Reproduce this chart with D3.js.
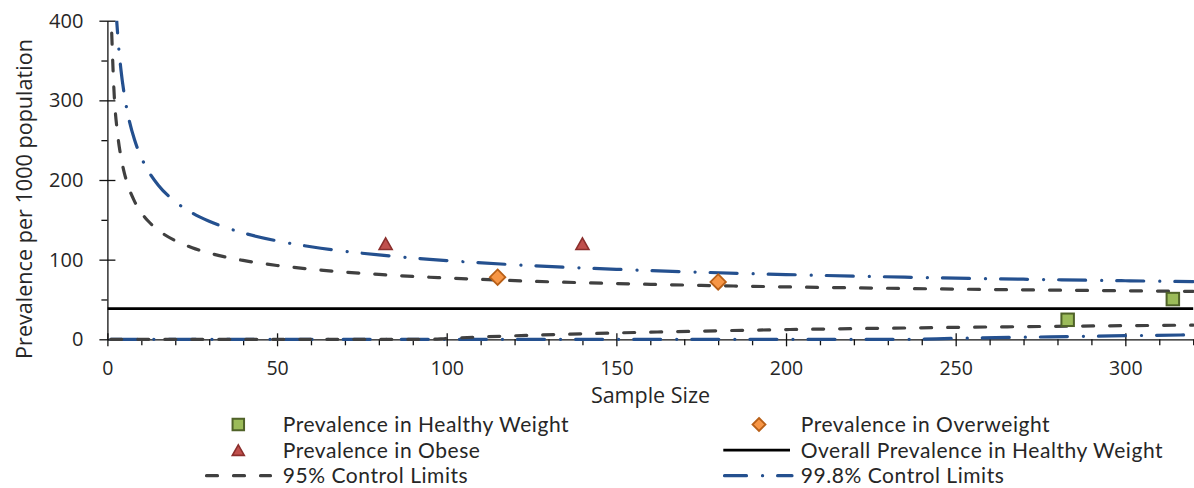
<!DOCTYPE html>
<html>
<head>
<meta charset="utf-8">
<script src="https://cdn.jsdelivr.net/npm/d3@7"></script>
<style>
  body { margin: 0; background: #fff; }
  svg { display: block; }
  text { font-family: 'Open Sans', 'Noto Sans', sans-serif; fill: #262626; }
  .legend text { font-family: Lato, 'Open Sans', sans-serif; letter-spacing: 0.55px; }
</style>
</head>
<body>
<svg id="chart" width="1194" height="488"></svg>
<script>
// Funnel plot: prevalence per 1000 against sample size, with 95% and 99.8% control limits.
const sampleSizes = [1, 2, 3, 4, 5, 6, 8, 10, 12, 15, 20, 25, 30, 40, 50, 60, 80, 95, 100, 125, 150, 175, 200, 235, 250, 275, 300, 320];
const upper95  = [418.5, 307.3, 258.1, 228.7, 208.7, 193.9, 173.2, 159.0, 148.5, 137.0, 123.8, 114.9, 108.3, 99.0, 92.7, 88.0, 81.4, 77.9, 77.0, 72.9, 70.0, 67.7, 65.8, 63.8, 63.0, 61.9, 60.9, 60.2];
const lower95  = [0, 0, 0, 0, 0, 0, 0, 0, 0, 0, 0, 0, 0, 0, 0, 0, 0, 0, 1.1, 5.1, 8.0, 10.3, 12.2, 14.2, 15.0, 16.1, 17.1, 17.8];
const upper998 = [637.2, 462.0, 384.5, 338.1, 306.6, 283.3, 250.5, 228.2, 211.7, 193.5, 172.8, 158.6, 148.2, 133.6, 123.6, 116.2, 105.9, 100.4, 98.8, 92.5, 87.9, 84.2, 81.3, 78.0, 76.8, 75.1, 73.5, 72.4];
const lower998 = [0, 0, 0, 0, 0, 0, 0, 0, 0, 0, 0, 0, 0, 0, 0, 0, 0, 0, 0, 0, 0, 0, 0, 0, 1.2, 2.9, 4.5, 5.6];

const overallPrevalence = 38.5;

const healthyN = [283, 314];
const healthyRate = [24.5, 50.5];
const overweightN = [115, 180];
const overweightRate = [78, 72];
const obeseN = [82, 140];
const obeseRate = [120, 120];

const xTicks = [0, 50, 100, 150, 200, 250, 300];
const xMinorTicks = [10, 20, 30, 40, 60, 70, 80, 90, 110, 120, 130, 140, 160, 170, 180, 190, 210, 220, 230, 240, 260, 270, 280, 290, 310, 320];
const yTicks = [0, 100, 200, 300, 400];
const yMinorTicks = [50, 150, 250, 350];

const legendLabels = [
  "Prevalence in Healthy Weight", "Prevalence in Overweight",
  "Prevalence in Obese", "Overall Prevalence in Healthy Weight",
  "95% Control Limits", "99.8% Control Limits"
];

const colors = {
  limit95: "#404040",
  limit998: "#24508f",
  overall: "#000000",
  healthyFill: "#9bbb59", healthyStroke: "#4f6228",
  overFill: "#f79646", overStroke: "#b85f17",
  obeseFill: "#c0504d", obeseStroke: "#8b2e2c"
};

const svg = d3.select("#chart");
const x = d3.scaleLinear().domain([0, 320]).range([107.4, 1193.2]);
const y = d3.scaleLinear().domain([0, 400]).range([339.3, 20.7]);

svg.append("defs").append("clipPath").attr("id", "plotClip")
  .append("rect").attr("x", x(0)).attr("y", y(400)).attr("width", 1194 - x(0)).attr("height", y(0) - y(400) + 8);

// Axes
const axisG = svg.append("g").attr("class", "axes");

const xMinor = axisG.append("g").attr("transform", `translate(0,${y(0)})`)
  .call(d3.axisBottom(x).tickValues(xMinorTicks).tickSize(6).tickSizeOuter(0).tickFormat(""));
xMinor.select(".domain").remove();

const xMajor = axisG.append("g").attr("transform", `translate(0,${y(0)})`)
  .call(d3.axisBottom(x).tickValues(xTicks).tickSize(7).tickSizeOuter(0).tickFormat(d3.format("d")));
xMajor.selectAll(".tick line").attr("y1", -6);
xMajor.selectAll(".tick text").attr("y", 22).attr("font-size", 19.5);

const yMinor = axisG.append("g").attr("transform", `translate(${x(0)},0)`)
  .call(d3.axisLeft(y).tickValues(yMinorTicks).tickSize(6).tickSizeOuter(0).tickFormat(""));
yMinor.select(".domain").remove();

const yMajor = axisG.append("g").attr("transform", `translate(${x(0)},0)`)
  .call(d3.axisLeft(y).tickValues(yTicks).tickSize(8).tickSizeOuter(0).tickFormat(d3.format("d")));
yMajor.selectAll(".tick line").attr("x1", 8);
yMajor.selectAll(".tick text").attr("x", -24).attr("font-size", 20);

axisG.selectAll(".domain, .tick line").attr("stroke", "#111").attr("stroke-width", 1.3);
axisG.selectAll("text").attr("fill", "#262626").attr("font-family", null);

// Axis titles
svg.append("text").attr("x", 650.5).attr("y", 403).attr("text-anchor", "middle")
  .attr("font-size", 21.5).text("Sample Size");
svg.append("text").attr("transform", "translate(31.5,199) rotate(-90)").attr("text-anchor", "middle")
  .attr("font-size", 21.6).text("Prevalence per 1000 population");

// Lines
const plot = svg.append("g").attr("clip-path", "url(#plotClip)");
const line = d3.line().x(d => x(d[0])).y(d => y(d[1])).curve(d3.curveMonotoneX);
const series = (vals) => sampleSizes.map((n, i) => [n, vals[i]]);

const dash95 = "11,16";
const dash998 = "27,16,0.1,15";

plot.append("path").datum([[0, overallPrevalence], [320, overallPrevalence]])
  .attr("d", d3.line().x(d => x(d[0])).y(d => y(d[1])))
  .attr("fill", "none").attr("stroke", colors.overall).attr("stroke-width", 2.6);

[lower998, upper998].forEach(vals => {
  plot.append("path").datum(series(vals)).attr("d", line)
    .attr("fill", "none").attr("stroke", colors.limit998).attr("stroke-width", 3.2)
    .attr("stroke-linecap", "round").attr("stroke-dasharray", dash998);
});
[lower95, upper95].forEach(vals => {
  plot.append("path").datum(series(vals)).attr("d", line)
    .attr("fill", "none").attr("stroke", colors.limit95).attr("stroke-width", 3.2)
    .attr("stroke-linecap", "round").attr("stroke-dasharray", dash95);
});

// Markers
function drawSquare(g, cx, cy, side) {
  g.append("rect").attr("x", cx - side / 2).attr("y", cy - side / 2).attr("width", side).attr("height", side)
    .attr("fill", colors.healthyFill).attr("stroke", colors.healthyStroke).attr("stroke-width", 2);
}
function drawDiamond(g, cx, cy, diag) {
  const h = diag / 2;
  g.append("path").attr("d", `M${cx},${cy - h}L${cx + h},${cy}L${cx},${cy + h}L${cx - h},${cy}Z`)
    .attr("fill", colors.overFill).attr("stroke", colors.overStroke).attr("stroke-width", 1.8);
}
function drawTriangle(g, cx, cy, w, hgt) {
  g.append("path").attr("d", `M${cx},${cy - hgt / 2}L${cx + w / 2},${cy + hgt / 2}L${cx - w / 2},${cy + hgt / 2}Z`)
    .attr("fill", colors.obeseFill).attr("stroke", colors.obeseStroke).attr("stroke-width", 1.6)
    .attr("stroke-linejoin", "miter");
}

const marks = svg.append("g");
healthyN.forEach((n, i) => drawSquare(marks, x(n), y(healthyRate[i]), 12.5));
overweightN.forEach((n, i) => drawDiamond(marks, x(n), y(overweightRate[i]), 15.5));
obeseN.forEach((n, i) => drawTriangle(marks, x(n), y(obeseRate[i]), 13, 11.5));

// Legend
const legend = svg.append("g").attr("class", "legend");
const colSymbolX = [238.3, 757];
const colTextX = [282.7, 800.7];
const rowBase = [432, 457.6, 483.2];
const rowMid = rowBase.map(b => b - 7.5);

legendLabels.forEach((label, i) => {
  const col = i % 2, row = Math.floor(i / 2);
  legend.append("text").attr("x", colTextX[col]).attr("y", rowBase[row])
    .attr("font-size", 21).text(label);
});

drawSquare(legend, colSymbolX[0], rowMid[0], 11.5);
drawDiamond(legend, colSymbolX[1] + 2, rowMid[0], 13);
drawTriangle(legend, colSymbolX[0], rowMid[1], 12, 10.5);
legend.append("line").attr("x1", 723.3).attr("x2", 790).attr("y1", rowMid[1]).attr("y2", rowMid[1])
  .attr("stroke", colors.overall).attr("stroke-width", 2.6);
legend.append("line").attr("x1", 206.5).attr("x2", 270.5).attr("y1", rowMid[2]).attr("y2", rowMid[2])
  .attr("stroke", colors.limit95).attr("stroke-width", 3.2).attr("stroke-linecap", "round")
  .attr("stroke-dasharray", dash95);
legend.append("line").attr("x1", 724.5).attr("x2", 792).attr("y1", rowMid[2]).attr("y2", rowMid[2])
  .attr("stroke", colors.limit998).attr("stroke-width", 3.2).attr("stroke-linecap", "round")
  .attr("stroke-dasharray", "22,16,0.1,15");
</script>
</body>
</html>
